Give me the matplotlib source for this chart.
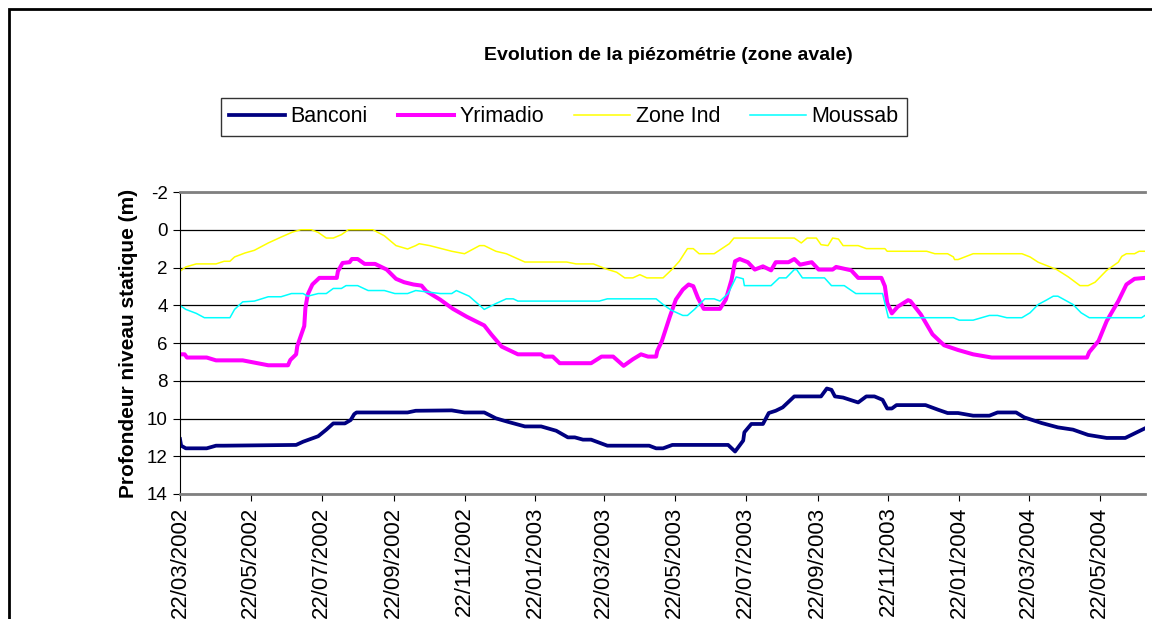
import matplotlib
matplotlib.use("Agg")
import matplotlib.pyplot as plt
import matplotlib.dates as mdates
from matplotlib.patches import Rectangle
import pandas as pd

plt.rcParams['font.family'] = ['Liberation Sans', 'DejaVu Sans']
plt.rcParams['axes.unicode_minus'] = False

# dates de mesure: jours depuis le 22/03/2002
debut = pd.Timestamp('2002-03-22')
fin = pd.Timestamp('2004-06-30')

jours_banconi = [0, 1, 5, 23, 31, 38, 100, 106, 119, 126, 132, 142, 147, 150, 152,
                 196, 203, 234, 245, 262, 272, 282, 297, 311, 324, 334, 340, 347, 354,
                 368, 404, 410, 416, 424, 472, 478, 485, 486, 492, 502, 507, 513, 519,
                 529, 552, 557, 561, 564, 571, 584, 591, 598, 605, 609, 613, 617, 642,
                 653, 661, 670, 683, 697, 704, 720, 727, 742, 756, 769, 782, 798, 814,
                 822, 831]
banconi = [11.09, 11.44, 11.58, 11.58, 11.44, 11.44, 11.40, 11.23, 10.94, 10.59, 10.26,
           10.26, 10.08, 9.77, 9.68, 9.68, 9.59, 9.57, 9.68, 9.68, 9.99, 10.17, 10.42,
           10.42, 10.65, 11.0, 11.0, 11.12, 11.12, 11.44, 11.44, 11.58, 11.58, 11.40,
           11.40, 11.75, 11.17, 10.73, 10.29, 10.29, 9.71, 9.59, 9.41, 8.83, 8.83, 8.41,
           8.48, 8.83, 8.89, 9.15, 8.83, 8.83, 9.01, 9.47, 9.47, 9.29, 9.29, 9.54, 9.71,
           9.71, 9.85, 9.85, 9.68, 9.68, 9.94, 10.24, 10.47, 10.59, 10.87, 11.03, 11.03,
           10.79, 10.52]

jours_yrimadio = [0, 4, 6, 23, 31, 54, 76, 93, 95, 100, 101, 104, 107, 108, 110, 114,
                  120, 135, 136, 140, 146, 148, 153, 159, 168, 178, 186, 193, 201, 208,
                  212, 224, 235, 247, 262, 268, 277, 291, 311, 314, 321, 327, 354, 363,
                  373, 382, 390, 397, 403, 410, 411, 415, 422, 427, 433, 438, 442, 446,
                  451, 465, 470, 475, 478, 482, 489, 495, 502, 509, 513, 524, 529, 534,
                  544, 550, 562, 565, 578, 584, 604, 607, 609, 613, 618, 627, 629, 638,
                  648, 658, 670, 683, 699, 781, 783, 791, 798, 808, 815, 822, 831]
yrimadio = [6.6, 6.6, 6.77, 6.77, 6.92, 6.92, 7.18, 7.18, 6.9, 6.6, 6.16, 5.63, 5.10,
            4.14, 3.43, 2.90, 2.55, 2.55, 2.20, 1.76, 1.72, 1.55, 1.55, 1.81, 1.81, 2.11,
            2.60, 2.78, 2.90, 2.96, 3.25, 3.70, 4.19, 4.61, 5.07, 5.54, 6.19, 6.60, 6.60,
            6.72, 6.72, 7.07, 7.07, 6.72, 6.72, 7.21, 6.86, 6.60, 6.72, 6.72, 6.42, 5.89,
            4.57, 3.70, 3.17, 2.90, 2.99, 3.61, 4.19, 4.19, 3.70, 2.64, 1.67, 1.55, 1.72,
            2.11, 1.94, 2.15, 1.72, 1.72, 1.55, 1.85, 1.72, 2.11, 2.11, 1.97, 2.15, 2.55,
            2.55, 2.99, 3.87, 4.43, 4.08, 3.73, 3.78, 4.49, 5.54, 6.12, 6.37, 6.60, 6.77,
            6.77, 6.48, 5.89, 4.84, 3.78, 2.90, 2.60, 2.55]

jours_zone = [0, 5, 14, 31, 38, 43, 47, 56, 64, 76, 87, 97, 104, 113, 119, 126, 132, 139,
              145, 166, 176, 186, 196, 203, 206, 215, 234, 245, 258, 262, 272, 281, 297,
              333, 341, 356, 367, 376, 383, 390, 396, 402, 416, 424, 430, 437, 442, 447,
              460, 473, 477, 529, 535, 540, 548, 552, 558, 562, 567, 571, 584, 591, 607,
              609, 643, 650, 661, 666, 667, 670, 683, 725, 732, 739, 755, 765, 775, 782,
              788, 798, 808, 811, 815, 822, 826, 831]
zone_ind = [2.20, 1.97, 1.81, 1.81, 1.67, 1.67, 1.44, 1.23, 1.09, 0.70, 0.39, 0.12, 0.0,
            0.0, 0.14, 0.44, 0.44, 0.26, 0.0, 0.0, 0.32, 0.84, 1.02, 0.84, 0.74, 0.84,
            1.14, 1.27, 0.84, 0.84, 1.14, 1.27, 1.71, 1.71, 1.81, 1.81, 2.08, 2.25, 2.55,
            2.55, 2.38, 2.55, 2.55, 2.08, 1.67, 1.0, 1.0, 1.27, 1.27, 0.74, 0.44, 0.44,
            0.70, 0.44, 0.44, 0.79, 0.84, 0.44, 0.49, 0.84, 0.84, 1.0, 1.0, 1.14, 1.14,
            1.27, 1.27, 1.44, 1.58, 1.58, 1.27, 1.27, 1.44, 1.72, 2.11, 2.50, 2.96, 2.96,
            2.78, 2.15, 1.72, 1.41, 1.27, 1.27, 1.14, 1.14]

jours_moussab = [0, 5, 14, 21, 43, 47, 54, 64, 76, 87, 96, 106, 110, 119, 126, 132, 139,
                 143, 153, 162, 176, 185, 196, 203, 224, 234, 238, 249, 262, 272, 281,
                 287, 291, 361, 368, 410, 416, 423, 433, 437, 443, 452, 460, 465, 472,
                 479, 485, 486, 509, 516, 522, 529, 531, 536, 555, 561, 572, 582, 605,
                 610, 666, 671, 683, 697, 704, 712, 725, 732, 739, 746, 752, 756, 769,
                 776, 783, 828, 831]
moussab = [4.01, 4.22, 4.43, 4.66, 4.66, 4.22, 3.82, 3.78, 3.55, 3.55, 3.38, 3.38, 3.52,
           3.38, 3.38, 3.11, 3.11, 2.96, 2.96, 3.22, 3.22, 3.38, 3.38, 3.22, 3.38, 3.38,
           3.22, 3.52, 4.22, 3.91, 3.66, 3.66, 3.78, 3.78, 3.66, 3.66, 3.96, 4.26, 4.54,
           4.54, 4.22, 3.66, 3.66, 3.78, 3.38, 2.50, 2.60, 2.96, 2.96, 2.55, 2.55, 2.11,
           2.11, 2.55, 2.55, 2.96, 2.96, 3.38, 3.38, 4.66, 4.66, 4.79, 4.79, 4.54, 4.54,
           4.66, 4.66, 4.40, 3.96, 3.73, 3.52, 3.52, 3.96, 4.40, 4.66, 4.66, 4.54]

series = [
    ('Banconi', jours_banconi, banconi, '#000080', 2.7),
    ('Yrimadio', jours_yrimadio, yrimadio, '#FF00FF', 2.9),
    ('Zone Ind', jours_zone, zone_ind, '#FFFF00', 1.1),
    ('Moussab', jours_moussab, moussab, '#00FFFF', 1.1),
]

fig = plt.figure(figsize=(11.52, 6.19), dpi=100)
ax = fig.add_axes([180 / 1152, 1 - 494 / 619, 965 / 1152, 302 / 619])

for nom, jours, vals, couleur, lw in series:
    dates = debut + pd.to_timedelta(jours, unit='D')
    ax.plot(dates, vals, color=couleur, lw=lw, label=nom, solid_joinstyle='round')

ax.set_ylim(14, -2)
ax.set_yticks(range(-2, 15, 2))
ax.set_xlim(debut, fin)
ticks = [debut + pd.DateOffset(months=2 * i) for i in range(14)]
ax.set_xticks(ticks)
ax.xaxis.set_major_formatter(mdates.DateFormatter('%d/%m/%Y'))
ax.tick_params(axis='x', labelrotation=90, labelsize=16, length=5, pad=4)
ax.tick_params(axis='y', labelsize=13.5, length=5, pad=4)

ax.grid(axis='y', color='black', lw=0.9)
ax.set_axisbelow(True)
ax.spines['right'].set_visible(False)
ax.spines['top'].set_color('#808080')
ax.spines['top'].set_linewidth(2)
ax.spines['bottom'].set_color('#808080')
ax.spines['bottom'].set_linewidth(2)
ax.spines['left'].set_color('black')

ax.set_ylabel('Profondeur niveau statique (m)', fontsize=15, fontweight='bold', labelpad=6)

fig.text(0.58, 1 - 55 / 619, 'Evolution de la piézométrie (zone avale)',
         ha='center', va='center', fontsize=14, fontweight='bold')

leg = fig.legend(loc='center', bbox_to_anchor=(564 / 1152, 1 - 117 / 619), ncol=4,
                 fontsize=15.5, frameon=True, fancybox=False, edgecolor='black',
                 handlelength=2.6, handletextpad=0.25, columnspacing=1.4,
                 borderpad=0.4)
leg.get_frame().set_linewidth(1.0)

# cadre de la zone graphique
fig.add_artist(Rectangle((8.5 / 1152, -0.2), 1.2, 1.2 - 9 / 619, transform=fig.transFigure,
                         fill=False, edgecolor='black', lw=2, clip_on=False))

fig.savefig('out.png', dpi=100)
